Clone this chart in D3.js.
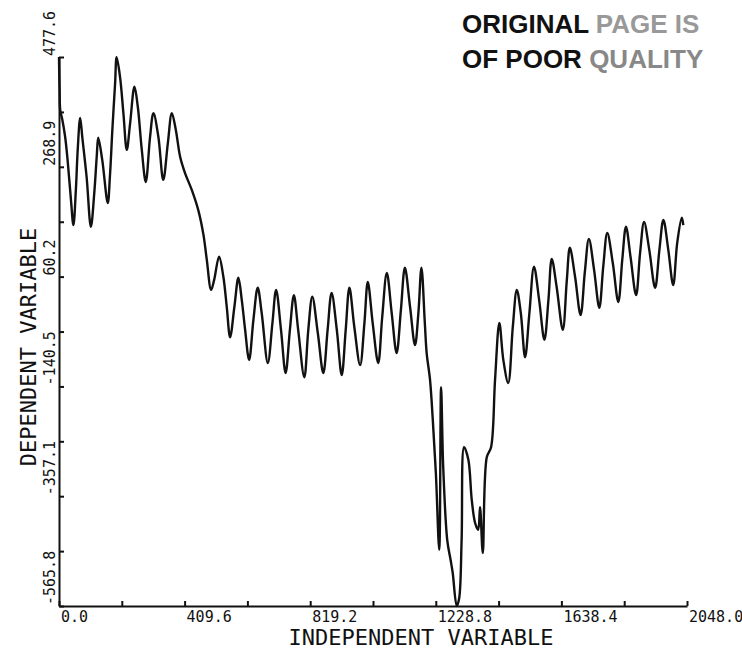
<!DOCTYPE html>
<html>
<head>
<meta charset="utf-8">
<script src="https://cdn.jsdelivr.net/npm/d3@7"></script>
<style>
  body { margin: 0; background: #fff; }
  svg { display: block; }
  .axis path, .axis line { stroke: #111; stroke-width: 2; }
  .lbl { font-family: "DejaVu Sans Mono", monospace; fill: #111; }
  .stamp { font-family: "Liberation Sans", Arial, sans-serif; font-weight: bold; font-size: 26px; }
</style>
</head>
<body>
<div id="chart"></div>
<script>
// trace, [independent, dependent]
var earlyPeaks = [[0,477.6],[1,440],[2,415],[4,377],[11,358],[20,326],[28,282],[39,206],[47,158],
  [55,225],[61,301],[69,362],[76,325],[90,250],[104,155],[115,219],[123,288],[128,324],[141,282],
  [159,200],[166,250],[174,339],[183,428],[188,477],[199,440],[210,371],[221,301],[232,352],[246,421],
  [257,383],[270,301],[283,240],[297,326],[308,371],[324,326],[340,244],[355,314],[368,371],[381,339],
  [395,288],[411,257],[433,225],[454,187],[471,140]];

var plateau = [[482,92],[496,35],[506,54],[522,98],[536,60],[547,3],[558,-55],[572,3],[585,58],[596,16],
  [607,-41],[620,-98],[634,-22],[648,39],[661,-9],[681,-104],[696,-28],[708,35],[724,-41],[739,-123],
  [753,-41],[766,25],[780,-41],[800,-131],[813,-41],[826,22],[844,-47],[862,-123],[876,-41],[889,29],
  [906,-41],[922,-127],[935,-41],[947,39],[963,-35],[982,-108],[996,-28],[1007,50],[1023,-28],[1041,-104],
  [1054,-17],[1069,67],[1085,-9],[1101,-85],[1115,-3],[1128,77],[1145,2],[1161,-70],[1172,-9],[1182,77],
  [1193,-28],[1199,-85],[1210,-136]];

var dip = [[1219,-212],[1229,-313],[1240,-459],[1246,-150],[1253,-302],[1266,-440],[1277,-478],[1284,-503],
  [1297,-565.8],[1305,-551],[1313,-440],[1321,-264],[1335,-288],[1346,-364],[1357,-408],[1367,-421],
  [1373,-378],[1382,-465],[1395,-283],[1409,-264],[1422,-136],[1436,-28],[1449,-98],[1465,-142]];

var recovery = [[1480,-35],[1493,35],[1506,-9],[1520,-93],[1534,-9],[1549,79],[1566,15],[1583,-60],
  [1596,15],[1607,94],[1623,40],[1643,-41],[1656,53],[1666,115],[1683,60],[1701,-13],[1715,70],[1728,132],
  [1745,73],[1762,1],[1775,80],[1788,143],[1806,86],[1824,12],[1837,93],[1849,155],[1864,97],[1882,25],
  [1895,105],[1908,164],[1925,111],[1944,39],[1958,111],[1971,168],[1987,111],[2003,44],[2016,124],
  [2031,172],[2036,158]];

var xTicks = [0, 204.8, 409.6, 614.4, 819.2, 1024, 1228.8, 1433.6, 1638.4, 1843.2, 2048];
var xLabelValues = [0, 409.6, 819.2, 1228.8, 1638.4, 2048];
var xLabels = ["0.0", "409.6", "819.2", "1228.8", "1638.4", "2048.0"];

var yTicks = [-565.8, -461.5, -357.1, -252.8, -148.5, -44.2, 60.2, 164.5, 268.9, 373.2, 477.6];
var yLabelValues = [-565.8, -357.1, -148.5, 60.2, 268.9, 477.6];
var yLabels = ["-565.8", "-357.1", "-140.5", "60.2", "268.9", "477.6"];

var margin = {top: 57, right: 55, bottom: 49, left: 59},
    width = 742 - margin.left - margin.right,
    height = 655 - margin.top - margin.bottom;

var x = d3.scaleLinear().domain([0, 2048]).range([0, width]);
var y = d3.scaleLinear().domain([-565.8, 477.6]).range([height, 0]);

var root = d3.select("#chart").append("svg")
    .attr("width", 742)
    .attr("height", 655);

var svg = root.append("g")
    .attr("transform", "translate(" + margin.left + "," + margin.top + ")");

// axes, ticks point inward
svg.append("g")
    .attr("class", "axis")
    .attr("transform", "translate(0," + height + ")")
    .call(d3.axisBottom(x).tickValues(xTicks).tickSizeInner(-5).tickSizeOuter(0).tickFormat(""));

svg.append("g")
    .attr("class", "axis")
    .call(d3.axisLeft(y).tickValues(yTicks).tickSizeInner(-5).tickSizeOuter(0).tickFormat(""));

svg.selectAll(".xlabel")
  .data(xLabelValues)
  .enter().append("text")
    .attr("class", "lbl")
    .attr("x", function(d) { return x(d) + 2; })
    .attr("y", height + 16)
    .style("font-size", "15px")
    .text(function(d, i) { return xLabels[i]; });

svg.selectAll(".ylabel")
  .data(yLabelValues)
  .enter().append("text")
    .attr("class", "lbl")
    .attr("transform", function(d) { return "translate(-4," + (y(d) - 1) + ") rotate(-90)"; })
    .style("font-size", "15px")
    .style("text-anchor", "start")
    .text(function(d, i) { return yLabels[i]; });

// axis titles
svg.append("text")
    .attr("class", "lbl")
    .attr("x", 362)
    .attr("y", height + 39)
    .style("font-size", "22px")
    .style("text-anchor", "middle")
    .text("INDEPENDENT VARIABLE");

svg.append("text")
    .attr("class", "lbl")
    .attr("transform", "translate(-23," + 290 + ") rotate(-90)")
    .style("font-size", "22px")
    .style("text-anchor", "middle")
    .text("DEPENDENT VARIABLE");

// the trace
var trace = earlyPeaks.concat(plateau, dip, recovery);

var line = d3.line()
    .x(function(d) { return x(d[0]); })
    .y(function(d) { return y(d[1]); })
    .curve(d3.curveCatmullRom.alpha(0.5));

svg.append("path")
    .datum(trace)
    .attr("fill", "none")
    .attr("stroke", "#111")
    .attr("stroke-width", 2.4)
    .attr("stroke-linejoin", "round")
    .attr("d", line);

// stamp in the corner
var s1 = root.append("text").attr("class", "stamp").attr("x", 462).attr("y", 33);
s1.append("tspan").attr("fill", "#111").text("ORIGINAL");
s1.append("tspan").attr("fill", "#999").text(" PAGE IS");

var s2 = root.append("text").attr("class", "stamp").attr("x", 462).attr("y", 68);
s2.append("tspan").attr("fill", "#111").text("OF POOR");
s2.append("tspan").attr("fill", "#888").text(" QUALITY");
</script>
</body>
</html>
